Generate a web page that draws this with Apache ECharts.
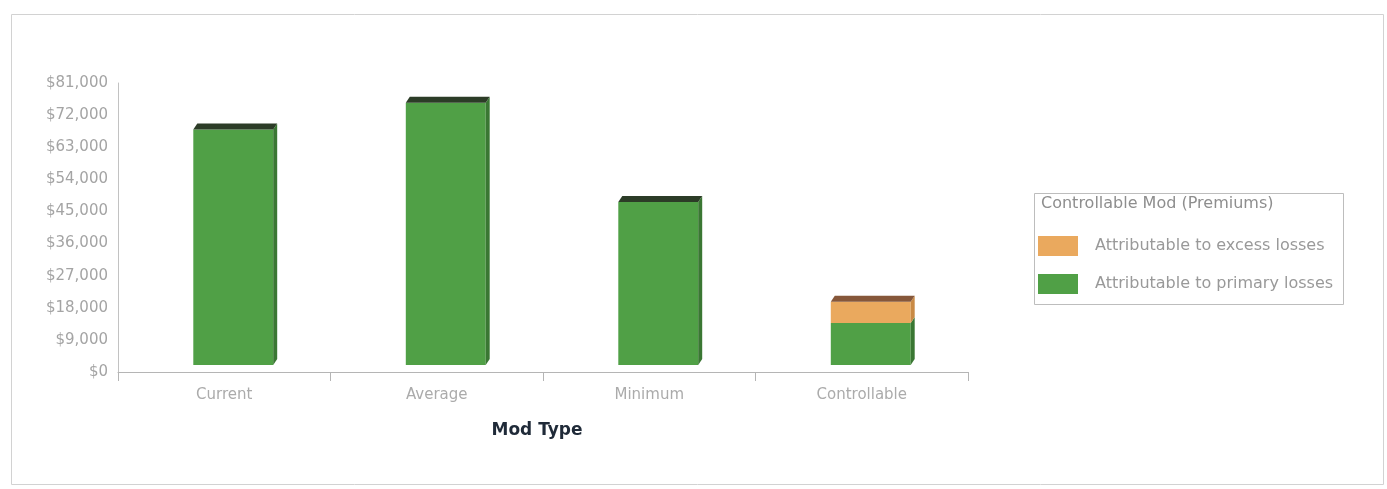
<!DOCTYPE html>
<html>
<head>
<meta charset="utf-8">
<script src="https://cdn.jsdelivr.net/npm/echarts@6/dist/echarts.min.js"></script>
<style>
  html, body { margin: 0; padding: 0; background: #ffffff; }
  #chart { width: 1387px; height: 489px; }
</style>
</head>
<body>
<div id="chart"></div>
<script>
// Premium components per experience mod type
const categories = ['Current', 'Average', 'Minimum', 'Controllable'];
const primaryLosses = [66000, 73500, 45700, 11800];
const excessLosses = [0, 0, 0, 5900];
const seriesNames = ['Attributable to excess losses', 'Attributable to primary losses'];
const legendTitle = 'Controllable Mod (Premiums)';
const xAxisTitle = 'Mod Type';
const yMax = 81000;
const yStep = 9000;

const totals = primaryLosses.map((p, i) => p + excessLosses[i]);

// pseudo-3D column geometry (pixels)
const DEPTH_X = 4, DEPTH_Y = 6, SHIFT_X = 9, LIFT = 7, BAR_RATIO = 0.376;
const FONT = 'DejaVu Sans';

const palette = {
  primary: { front: '#50a046', side: '#3a7733', top: '#2c3c27' },
  excess:  { front: '#eaa95e', side: '#c98a45', top: '#86573a' }
};

function makeRender(col) {
  return function (params, api) {
    const i = api.value(0), lo = api.value(1), hi = api.value(2);
    if (!(hi > lo)) return null;
    const bandW = api.size([1, 0])[0];
    const w = bandW * BAR_RATIO;
    const base = api.coord([i, lo]);
    const xl = base[0] + SHIFT_X - w / 2, xr = xl + w;
    const yb = base[1] - LIFT;
    const yt = api.coord([i, hi])[1] - LIFT;
    const children = [
      { type: 'rect', shape: { x: xl, y: yt, width: w, height: yb - yt }, style: { fill: col.front } },
      { type: 'polygon', shape: { points: [[xr, yb], [xr, yt], [xr + DEPTH_X, yt - DEPTH_Y], [xr + DEPTH_X, yb - DEPTH_Y]] }, style: { fill: col.side } }
    ];
    if (hi >= totals[i]) {
      children.push({ type: 'polygon', shape: { points: [[xl, yt], [xl + DEPTH_X, yt - DEPTH_Y], [xr + DEPTH_X, yt - DEPTH_Y], [xr, yt]] }, style: { fill: col.top } });
    }
    return { type: 'group', children };
  };
}

const primaryData = categories.map((c, i) => [i, 0, primaryLosses[i]]);
const excessData = categories.map((c, i) => [i, primaryLosses[i], totals[i]]);

const chart = echarts.init(document.getElementById('chart'), null, { renderer: 'canvas' });
chart.setOption({
  animation: false,
  backgroundColor: '#ffffff',
  textStyle: { fontFamily: FONT },
  grid: { left: 118, right: 419, top: 83, bottom: 117 },
  xAxis: {
    type: 'category',
    data: categories,
    axisLine: { lineStyle: { color: '#b5b5b5', width: 1 } },
    axisTick: { show: true, length: 9, lineStyle: { color: '#b5b5b5' } },
    axisLabel: { color: '#ababab', fontSize: 15, margin: 16, fontFamily: FONT },
    name: xAxisTitle,
    nameLocation: 'middle',
    nameGap: 50,
    nameTextStyle: { color: '#1f2a38', fontSize: 17, fontWeight: 'bold', fontFamily: FONT, padding: [0, 12, 0, 0] }
  },
  yAxis: {
    type: 'value',
    min: 0,
    max: yMax,
    interval: yStep,
    splitLine: { show: false },
    axisLine: { show: true, lineStyle: { color: '#c2c2c2' } },
    axisTick: { show: false },
    axisLabel: {
      color: '#a4a4a4', fontSize: 15, margin: 10, fontFamily: FONT,
      formatter: v => '$' + v.toLocaleString('en-US')
    }
  },
  legend: {
    orient: 'vertical',
    left: 1033,
    top: 231,
    itemWidth: 40,
    itemHeight: 20,
    itemGap: 18,
    icon: 'rect',
    data: [seriesNames[0], seriesNames[1]],
    textStyle: { color: '#999999', fontSize: 16, fontFamily: FONT, padding: [0, 0, 0, 12] }
  },
  graphic: [
    { type: 'rect', left: 9, top: 12, shape: { width: 1372, height: 470 }, style: { fill: 'none', stroke: '#d2d2d2', lineWidth: 1 }, silent: true },
    { type: 'rect', left: 1032, top: 191, shape: { width: 309, height: 111 }, style: { fill: 'none', stroke: '#bdbdbd', lineWidth: 1 }, silent: true },
    { type: 'text', left: 1041, top: 196, style: { text: legendTitle, fill: '#8e8e8e', font: '16px "DejaVu Sans"' }, silent: true }
  ],
  series: [
    {
      name: seriesNames[1],
      type: 'custom',
      renderItem: makeRender(palette.primary),
      itemStyle: { color: palette.primary.front },
      encode: { x: 0, y: 2 },
      data: primaryData
    },
    {
      name: seriesNames[0],
      type: 'custom',
      renderItem: makeRender(palette.excess),
      itemStyle: { color: palette.excess.front },
      encode: { x: 0, y: 2 },
      data: excessData
    }
  ]
});
</script>
</body>
</html>
